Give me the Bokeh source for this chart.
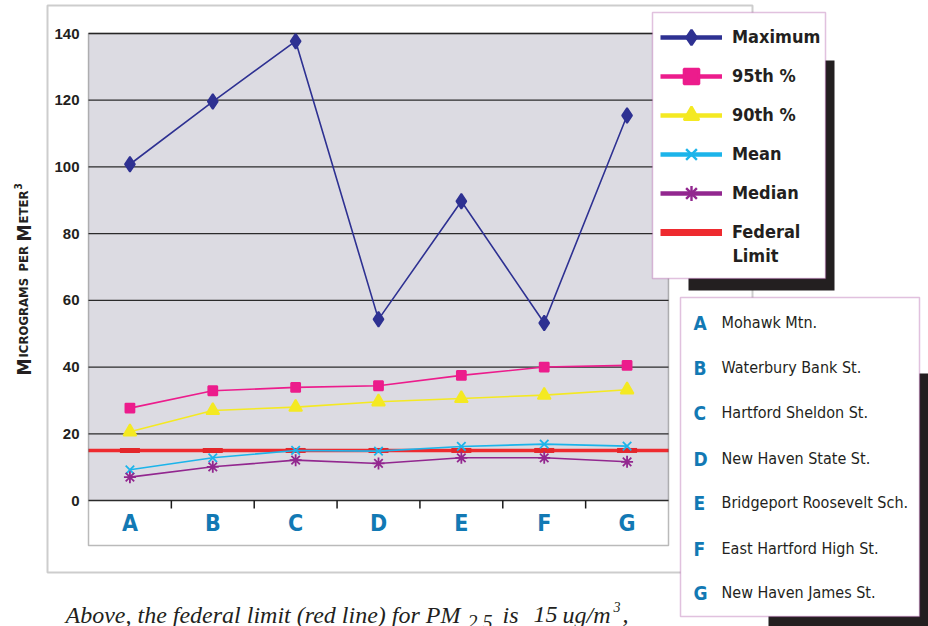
import math
from bokeh.plotting import figure
from bokeh.models import Range1d, BoxAnnotation, Label, Legend, LegendItem
from bokeh.core.properties import value
from bokeh.embed import file_html
from bokeh.resources import INLINE

# ---------------- data ----------------
stations = ["A", "B", "C", "D", "E", "F", "G"]
station_names = ["Mohawk Mtn.", "Waterbury Bank St.", "Hartford Sheldon St.",
                 "New Haven State St.", "Bridgeport Roosevelt Sch.",
                 "East Hartford High St.", "New Haven James St."]
maximum = [100.8, 119.6, 137.7, 54.3, 89.7, 53.2, 115.4]
pct95 = [27.7, 32.9, 33.9, 34.4, 37.5, 40.0, 40.5]
pct90 = [20.6, 27.0, 28.0, 29.6, 30.6, 31.6, 33.2]
mean = [9.2, 12.8, 15.0, 14.8, 16.2, 16.9, 16.3]
median = [7.0, 10.1, 12.1, 11.1, 12.8, 12.8, 11.6]
federal_limit = 15
yticks = [0, 20, 40, 60, 80, 100, 120, 140]
ytick_labels = ["0", "20", "40", "60", "80", "100", "120", "140"]
y_axis_title = ["M", "ICROGRAMS", "PER", "M", "ETER", "3"]
caption_parts = ["Above, the federal limit (red line) for PM", "2.5", "is",
                 "15", "ug/m", "3", ","]

# ---------------- styles / layout ----------------
NAVY = "#2E3192"
MAGENTA = "#EC1C8C"
YELLOW = "#F4E922"
CYAN = "#1CB4EA"
PURPLE = "#92278F"
RED = "#EE2A2F"
INK = "#231F20"
BLUE = "#1279B4"
BORDER = "#9C3391"
GRAY = "#DCDBE2"
NARROW = "DejaVu Sans Condensed, Liberation Sans"

W, H = 928, 626
PLOT_L, PLOT_R, PLOT_T, ZERO_Y, PLOT_B = 88, 668, 33, 500, 545

n = len(stations)
idx = list(range(n))
x0, x1 = -0.5, n - 0.5
ymax = max(yticks)
ppc = (PLOT_R - PLOT_L) / (x1 - x0)          # pixels per category
ppu = (ZERO_Y - PLOT_T) / ymax               # pixels per unit
y_band = -(PLOT_B - ZERO_Y) / ppu

p = figure(width=W, height=H, output_backend="svg", toolbar_location=None,
           x_range=Range1d(x0 - PLOT_L / ppc, x1 + (W - PLOT_R) / ppc),
           y_range=Range1d(y_band - (H - PLOT_B) / ppu, ymax + PLOT_T / ppu),
           x_axis_location=None, y_axis_location=None, min_border=0,
           background_fill_color="white", border_fill_color="white",
           outline_line_color=None)
p.grid.visible = False

# plot area
p.add_layout(BoxAnnotation(left=x0, right=x1, bottom=0, top=ymax,
                           fill_color=GRAY, fill_alpha=1, line_color=None,
                           level="image"))
p.segment(x0=[x0] * len(yticks), x1=[x1] * len(yticks), y0=yticks, y1=yticks,
          line_color="#2b2b2b", line_width=1.3)
p.text(x=[x0] * len(yticks), y=yticks, text=ytick_labels, x_offset=-9,
       text_align="right", text_baseline="middle",
       text_font=value("Liberation Sans"), text_font_style="bold",
       text_font_size="15px", text_color=INK)

# station letters and separator ticks
p.text(x=idx, y=[0] * n, text=stations, y_offset=22,
       text_align="center", text_baseline="alphabetic",
       text_font=value(NARROW), text_font_style="bold", text_font_size="23px",
       text_color=BLUE)
p.ray(x=[i + 0.5 for i in idx[:-1]], y=[0] * (n - 1), length=8,
      length_units="screen", angle=-math.pi / 2, line_color="#1a1a1a",
      line_width=1.5)

# federal limit
p.segment(x0=[x0], x1=[x1], y0=[federal_limit], y1=[federal_limit],
          line_color=RED, line_width=3.5)
p.scatter(idx, [federal_limit] * n, marker="dash", size=20,
          line_color="#E3262B", line_width=5)

series = [
    ("Maximum", maximum, NAVY, "diamond", 15),
    ("95th %", pct95, MAGENTA, "square", 9),
    ("90th %", pct90, YELLOW, "triangle", 13),
    ("Mean", mean, CYAN, "x", 12),
    ("Median", median, PURPLE, "asterisk", 12),
]
items = []
for name, vals, col, mk, sz in series:
    p.line(idx, vals, line_color=col, line_width=1.6)
    p.scatter(idx, vals, marker=mk, size=sz, fill_color=col, line_color=col,
              line_width=1.8)
    # legend proxies (hidden in the plot)
    lp = p.line(idx, vals, line_color=col, line_width=4.5, visible=False)
    sp = p.scatter(idx, vals, marker=mk, size=15, fill_color=col,
                   line_color=col, line_width=2.4, visible=False)
    items.append(LegendItem(label=name, renderers=[lp, sp]))
fp = p.line(idx, [federal_limit] * n, line_color=RED, line_width=7,
            visible=False)
items.append(LegendItem(label="Federal", renderers=[fp]))

# plot frame outline
p.add_layout(BoxAnnotation(left=x0, right=x1, bottom=y_band, top=ymax,
                           fill_alpha=0, line_color="#1a1a1a",
                           line_width=1.5))


def cbox(l, r, t, b, **kw):
    return BoxAnnotation(left=l, right=r, top=t, bottom=b, left_units="canvas",
                         right_units="canvas", top_units="canvas",
                         bottom_units="canvas", **kw)


# outer frame, shadows, legend boxes
p.add_layout(cbox(47, 752, 5, 572, fill_alpha=0, line_color="#5B5B5B",
                  line_width=2))
p.add_layout(cbox(688, 834, 60, 290, fill_color=INK, fill_alpha=1,
                  line_color=None))
p.add_layout(cbox(768, 940, 373, 640, fill_color=INK, fill_alpha=1,
                  line_color=None))
p.add_layout(cbox(652, 825, 12, 278, fill_color="white", fill_alpha=1,
                  line_color=BORDER, line_width=1.5))
p.add_layout(cbox(680, 919, 297, 616, fill_color="white", fill_alpha=1,
                  line_color=BORDER, line_width=1.5))

n_items = len(items)
gh, sp_ = 38, 1
leg_h = n_items * gh + (n_items - 1) * sp_
leg_top = 36.7 - gh / 2
legend = Legend(items=items, location=(660, H - leg_top - leg_h),
                orientation="vertical", glyph_width=62, glyph_height=gh,
                label_height=gh, label_standoff=10, spacing=sp_, padding=0,
                margin=0, border_line_alpha=0, background_fill_alpha=0,
                label_text_font=NARROW, label_text_font_style="bold",
                label_text_font_size="18px", label_text_color=INK)
p.add_layout(legend)
p.add_layout(Label(x=732, y=255, x_units="canvas", y_units="canvas",
                   text="Limit", text_font=NARROW, text_font_style="bold",
                   text_font_size="18px", text_color=INK,
                   text_baseline="middle"))

# station key
row_y = [322, 367, 412, 458, 502, 548, 592]
for letter, nm, yy in zip(stations, station_names, row_y):
    p.add_layout(Label(x=693, y=yy, x_units="canvas", y_units="canvas",
                       text=letter, text_font=NARROW, text_font_style="bold",
                       text_font_size="19px", text_color=BLUE,
                       text_baseline="middle"))
    p.add_layout(Label(x=721, y=yy, x_units="canvas", y_units="canvas",
                       text=nm, text_font=NARROW, text_font_size="16px",
                       text_color=INK, text_baseline="middle"))

# y axis title in small caps
yt_pos = [(23, 375, "19px"), (23, 357, "13px"), (23, 271, "13px"),
          (23, 241, "19px"), (23, 223, "13px"), (17, 189, "10px")]
for txt, (xx, yy, fs) in zip(y_axis_title, yt_pos):
    p.add_layout(Label(x=xx, y=yy, x_units="canvas", y_units="canvas",
                       text=txt, angle=math.pi / 2, text_font=NARROW,
                       text_font_style="bold", text_font_size=fs,
                       text_color=INK, text_baseline="alphabetic",
                       text_align="left"))

# caption
cap_pos = [(65, 614, "24px"), (467, 621, "20px"), (502, 614, "24px"),
           (533, 614, "24px"), (562, 614, "24px"), (613, 606, "14px"),
           (622, 614, "24px")]
for txt, (xx, yy, fs) in zip(caption_parts, cap_pos):
    p.add_layout(Label(x=xx, y=yy, x_units="canvas", y_units="canvas",
                       text=txt, text_font="Liberation Serif",
                       text_font_style="italic", text_font_size=fs,
                       text_color=INK, text_baseline="alphabetic"))

open("out.html", "w").write(file_html(p, INLINE))
